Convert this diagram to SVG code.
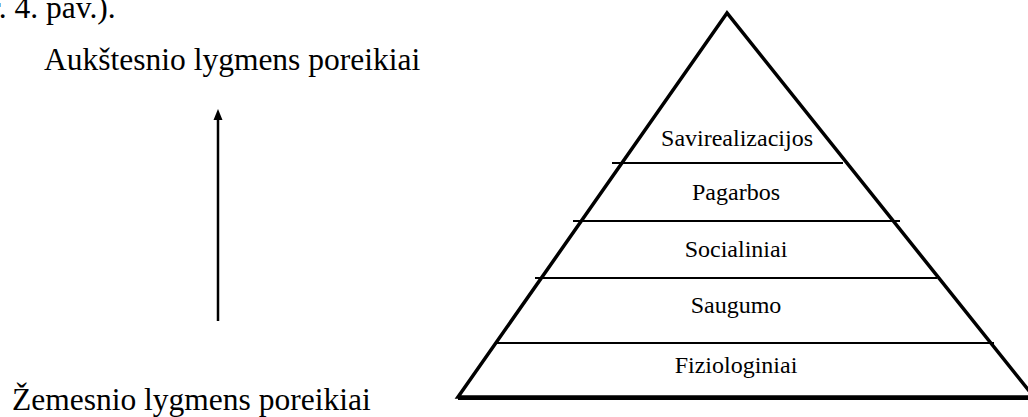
<svg xmlns="http://www.w3.org/2000/svg" width="1028" height="417" viewBox="0 0 1028 417">
<style>
.big{font-family:"Liberation Serif","Times New Roman",serif;font-size:31.5px;fill:#000}
.lbl{font-family:"Liberation Serif","Times New Roman",serif;font-size:24px;fill:#000;text-anchor:middle}
.ln{stroke:#000;stroke-width:2;fill:none}
</style>
<defs>
<marker id="ah" markerWidth="10" markerHeight="10" refX="5" refY="10" orient="auto" markerUnits="userSpaceOnUse" viewBox="0 0 10 10">
<path d="M0,10 L5,0 L10,10 Z" fill="#000"/>
</marker>
</defs>
<text class="big" x="-10" y="18">r. 4. pav.).</text>
<g id="upper-label"><text class="big" x="44" y="70">Aukštesnio lygmens poreikiai</text></g>
<g id="lower-label"><text class="big" x="12" y="410">Žemesnio lygmens poreikiai</text></g>
<g id="connectors">
<line x1="218" y1="321" x2="218" y2="119" stroke="#000" stroke-width="2.5"/>
<path d="M213.5,120 L218,109 L222.5,120 Z" fill="#000"/>
</g>
<g id="pyramid">
<polygon points="727,13 458,397 1034,397" fill="none" stroke="#000" stroke-width="3.5" stroke-linejoin="miter"/>
<line x1="458" y1="398" x2="1028" y2="398" stroke="#000" stroke-width="4"/>
<line class="ln" x1="612" y1="163" x2="843" y2="163"/>
<line class="ln" x1="573" y1="221" x2="900" y2="221"/>
<line class="ln" x1="535" y1="278" x2="937" y2="278"/>
<line class="ln" x1="497" y1="343" x2="994" y2="343"/>
</g>
<g id="level-5"><text class="lbl" x="737" y="146">Savirealizacijos</text></g>
<g id="level-4"><text class="lbl" x="736" y="200">Pagarbos</text></g>
<g id="level-3"><text class="lbl" x="736" y="257">Socialiniai</text></g>
<g id="level-2"><text class="lbl" x="736" y="313">Saugumo</text></g>
<g id="level-1"><text class="lbl" x="736" y="373">Fiziologiniai</text></g>
</svg>
